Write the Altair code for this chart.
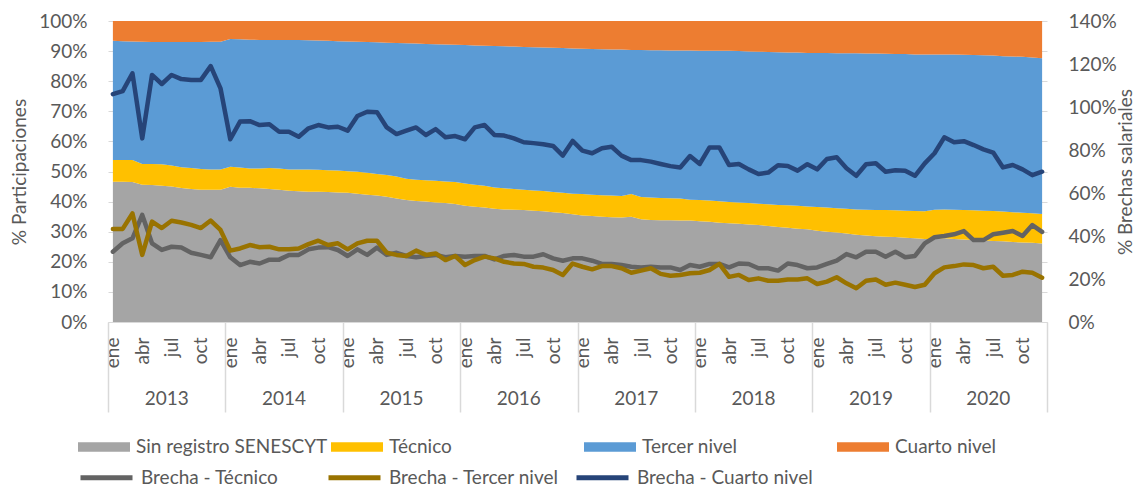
import altair as alt
import pandas as pd

# ---------------- data ----------------
years = [2013, 2014, 2015, 2016, 2017, 2018, 2019, 2020]
month_names = ["ene", "feb", "mar", "abr", "may", "jun", "jul", "ago", "sep", "oct", "nov", "dic"]

area_cats = ["Sin registro SENESCYT", "Técnico", "Tercer nivel", "Cuarto nivel"]
area_colors = ["#a5a5a5", "#ffc000", "#5b9bd5", "#ed7d31"]

line_cats = ["Brecha - Técnico", "Brecha - Tercer nivel", "Brecha - Cuarto nivel"]
line_colors = ["#636363", "#997300", "#264478"]

# % Participaciones (monthly, ene-2013 .. dic-2020)
sin_registro = [
    46.6, 46.6, 46.5, 45.6, 45.5, 45.3, 45.0, 44.5, 44.2, 43.9, 43.9, 43.9,
    44.9, 44.6, 44.6, 44.4, 44.2, 43.9, 43.6, 43.4, 43.3, 43.3, 43.2, 43.0,
    42.9, 42.6, 42.3, 42.0, 41.6, 41.0, 40.5, 40.2, 40.0, 39.7, 39.5, 39.2,
    38.6, 38.3, 38.0, 37.6, 37.4, 37.3, 37.2, 37.0, 36.8, 36.5, 36.2, 35.8,
    35.4, 35.2, 35.0, 34.8, 34.7, 35.0, 34.1, 33.9, 33.8, 33.8, 33.7, 33.7,
    33.5, 33.3, 33.0, 32.8, 32.6, 32.4, 32.2, 31.9, 31.6, 31.3, 31.0, 30.8,
    30.3, 30.0, 29.7, 29.4, 29.0, 28.7, 28.5, 28.3, 28.2, 28.0, 27.8, 27.6,
    27.6, 27.8, 27.6, 27.4, 27.2, 27.1, 26.9, 26.8, 26.6, 26.4, 26.3, 26.1,
]
tecnico = [
    7.2, 7.2, 7.3, 6.9, 7.0, 7.1, 7.0, 6.9, 7.0, 6.9, 6.8, 6.8,
    6.7, 6.7, 6.4, 6.6, 7.0, 7.1, 7.1, 7.3, 7.4, 7.3, 7.2, 7.3,
    7.2, 7.3, 7.3, 7.2, 7.2, 7.3, 7.1, 7.1, 7.1, 7.2, 7.2, 7.3,
    7.4, 7.3, 7.3, 7.1, 7.0, 6.9, 6.7, 6.7, 6.7, 6.7, 6.7, 6.8,
    7.1, 7.1, 7.1, 7.2, 7.2, 7.5, 7.4, 7.5, 7.4, 7.3, 7.3, 6.9,
    7.0, 7.1, 7.1, 7.1, 7.1, 7.1, 7.1, 7.2, 7.3, 7.5, 7.6, 7.6,
    7.9, 8.0, 8.1, 8.2, 8.4, 8.6, 8.7, 8.9, 8.9, 9.0, 9.1, 9.2,
    9.7, 9.6, 9.7, 9.8, 9.9, 9.9, 10.0, 9.9, 9.9, 9.9, 9.8, 9.8,
]
tercer = [
    39.6, 39.5, 39.4, 40.6, 40.5, 40.6, 41.0, 41.6, 41.8, 42.2, 42.4, 42.4,
    42.4, 42.6, 42.8, 42.7, 42.5, 42.7, 43.0, 43.0, 42.9, 42.9, 43.0, 43.0,
    43.1, 43.2, 43.4, 43.7, 44.0, 44.4, 45.0, 45.2, 45.3, 45.4, 45.5, 45.6,
    46.0, 46.3, 46.5, 47.0, 47.2, 47.3, 47.5, 47.6, 47.7, 47.9, 48.1, 48.3,
    48.3, 48.4, 48.5, 48.5, 48.6, 47.9, 48.9, 48.9, 49.1, 49.1, 49.2, 49.6,
    49.6, 49.7, 50.0, 50.2, 50.3, 50.4, 50.5, 50.6, 50.7, 50.7, 50.9, 51.0,
    51.2, 51.4, 51.5, 51.7, 51.9, 51.9, 52.0, 51.9, 51.9, 52.0, 52.0, 52.1,
    51.6, 51.5, 51.6, 51.6, 51.6, 51.6, 51.6, 51.6, 51.7, 51.8, 51.8, 51.7,
]
cuarto = [
    6.6, 6.7, 6.8, 6.9, 7.0, 7.0, 7.0, 7.0, 7.0, 7.0, 6.9, 6.9,
    6.0, 6.1, 6.2, 6.3, 6.3, 6.3, 6.3, 6.3, 6.4, 6.5, 6.6, 6.7,
    6.8, 6.9, 7.0, 7.1, 7.2, 7.3, 7.4, 7.5, 7.6, 7.7, 7.8, 7.9,
    8.0, 8.1, 8.2, 8.3, 8.4, 8.5, 8.6, 8.7, 8.8, 8.9, 9.0, 9.1,
    9.2, 9.3, 9.4, 9.5, 9.5, 9.6, 9.6, 9.7, 9.7, 9.8, 9.8, 9.8,
    9.9, 9.9, 9.9, 9.9, 10.0, 10.1, 10.2, 10.3, 10.4, 10.5, 10.5, 10.6,
    10.6, 10.6, 10.7, 10.7, 10.7, 10.8, 10.8, 10.9, 11.0, 11.0, 11.1, 11.1,
    11.1, 11.1, 11.1, 11.2, 11.3, 11.4, 11.5, 11.7, 11.8, 11.9, 12.1, 12.4,
]

# % Brechas salariales
brecha_tecnico = [
    32.7, 36.6, 38.9, 49.8, 36.6, 33.5, 35.0, 34.6, 32.2, 31.2, 30.1, 38.1,
    30.1, 26.5, 28.0, 27.2, 29.0, 29.0, 31.2, 31.2, 33.8, 34.6, 34.8, 33.5,
    30.7, 33.8, 31.2, 34.6, 31.2, 32.2, 30.7, 30.1, 30.7, 31.2, 30.1, 30.7,
    30.4, 30.7, 30.7, 29.1, 30.7, 31.2, 30.4, 30.4, 31.5, 29.6, 28.5, 29.6,
    29.6, 28.5, 27.0, 27.0, 26.5, 25.7, 25.4, 25.7, 25.4, 25.4, 24.2, 26.5,
    25.7, 27.0, 27.0, 25.4, 27.2, 27.0, 25.0, 25.0, 23.9, 27.2, 26.5, 25.0,
    25.4, 27.0, 28.5, 31.6, 30.1, 32.7, 32.7, 30.4, 32.7, 30.1, 30.7, 36.6,
    39.4, 40.0, 40.8, 42.3, 38.1, 38.1, 40.8, 41.5, 42.3, 40.0, 45.1, 41.9,
]
brecha_tercer = [
    43.3, 43.3, 50.5, 31.2, 46.7, 43.7, 47.1, 46.3, 45.2, 43.7, 47.2, 42.8,
    33.2, 34.2, 35.8, 34.8, 35.0, 33.8, 33.8, 34.2, 36.2, 37.8, 35.8, 36.6,
    33.8, 36.6, 37.8, 37.8, 32.2, 31.2, 30.7, 33.2, 31.2, 31.9, 28.8, 30.7,
    26.5, 28.8, 30.4, 29.6, 28.0, 27.2, 27.0, 25.7, 25.3, 24.2, 21.9, 27.2,
    25.7, 24.5, 26.0, 26.0, 25.0, 22.9, 23.9, 25.0, 22.4, 21.5, 21.9, 22.7,
    22.9, 24.2, 27.0, 21.0, 21.9, 19.5, 20.3, 19.2, 19.2, 19.8, 19.8, 20.3,
    17.7, 18.8, 20.8, 18.0, 15.7, 19.2, 19.8, 17.3, 18.3, 17.3, 16.3, 17.3,
    22.7, 25.4, 26.0, 26.8, 26.5, 25.0, 25.7, 21.5, 21.9, 23.4, 22.9, 20.6,
]
brecha_cuarto = [
    106.0, 107.4, 115.7, 85.4, 114.9, 110.7, 114.9, 113.0, 112.6, 112.6, 119.0, 108.7,
    85.0, 93.2, 93.4, 91.6, 92.0, 88.5, 88.5, 86.2, 90.1, 91.6, 90.5, 90.8,
    89.0, 95.8, 97.8, 97.6, 90.5, 87.4, 89.0, 90.5, 87.0, 89.7, 85.9, 86.5,
    85.0, 90.5, 91.6, 87.0, 86.7, 85.4, 83.6, 83.2, 82.7, 81.9, 77.4, 84.2,
    79.7, 78.5, 80.8, 81.5, 77.4, 75.3, 75.3, 74.6, 73.5, 72.5, 71.9, 77.2,
    73.5, 81.2, 81.2, 73.0, 73.5, 71.0, 68.8, 69.5, 72.9, 72.6, 70.4, 73.4,
    71.0, 75.8, 76.6, 71.5, 68.0, 73.4, 73.8, 69.9, 70.6, 70.4, 68.0, 73.8,
    78.5, 85.9, 83.6, 84.1, 82.3, 80.3, 78.8, 71.9, 73.0, 71.0, 68.3, 69.9,
]

# ---------------- tables ----------------
area_rows = []
for k, (cat, vals) in enumerate(zip(area_cats, [sin_registro, tecnico, tercer, cuarto])):
    for i, v in enumerate(vals):
        area_rows.append({"i": i, "cat": cat, "ord": k, "v": v})
area_df = pd.DataFrame(area_rows)

line_rows = []
for k, (ser, vals) in enumerate(zip(line_cats, [brecha_tecnico, brecha_tercer, brecha_cuarto])):
    for i, v in enumerate(vals):
        line_rows.append({"i": i, "ser": ser, "v": v})
line_df = pd.DataFrame(line_rows)

n_months = len(sin_registro)
year_df = pd.DataFrame({"c": [12 * k + 5.5 for k in range(len(years))],
                        "label": [str(y) for y in years]})

# ---------------- styling ----------------
FONT = "Lato"
TXT = "#595959"
FS = 19
W, H = 939, 301

xscale = alt.Scale(domain=[-0.5, n_months - 0.5], nice=False, zero=False)
month_expr = "[" + ",".join("'%s'" % m for m in month_names) + "][datum.value % 12]"

areas = alt.Chart(area_df).mark_area(clip=True, opacity=1).encode(
    x=alt.X("i:Q", scale=xscale,
            axis=alt.Axis(orient="bottom", values=list(range(0, n_months, 3)),
                          labelExpr=month_expr, labelAngle=-90, labelAlign="right",
                          labelBaseline="middle", labelPadding=15, ticks=False,
                          grid=False, domain=True, domainColor="#d9d9d9", domainWidth=1,
                          labelFont=FONT, labelFontSize=FS, labelColor=TXT, title=None)),
    y=alt.Y("v:Q", stack="zero", scale=alt.Scale(domain=[0, 100], nice=False),
            axis=alt.Axis(values=list(range(0, 101, 10)), labelExpr="datum.value + '%'",
                          grid=True, gridColor="#d9d9d9", domain=False, ticks=False,
                          labelPadding=21, labelFont=FONT, labelFontSize=FS, labelColor=TXT,
                          title="% Participaciones", titleFont=FONT, titleFontSize=FS,
                          titleFontWeight="normal", titleColor=TXT, titleAngle=270,
                          titleX=-89, titleY=H / 2, titleAlign="center", titleBaseline="middle")),
    color=alt.Color("cat:N", sort=area_cats,
                    scale=alt.Scale(domain=area_cats, range=area_colors),
                    legend=alt.Legend(orient="none", legendX=-30, legendY=400, direction="horizontal",
                                      columns=4, gridAlign="all", columnPadding=3,
                                      symbolType="M-1,-0.18H1V0.18H-1Z", symbolSize=2704,
                                      symbolStrokeWidth=0, symbolOpacity=1, labelOffset=6,
                                      labelFont=FONT, labelFontSize=FS, labelColor=TXT,
                                      labelLimit=400, title=None)),
    order=alt.Order("ord:Q"),
)

lines = alt.Chart(line_df).mark_line(strokeWidth=4.5, strokeJoin="round", strokeCap="round").encode(
    x=alt.X("i:Q", scale=xscale,
            axis=alt.Axis(orient="bottom", values=[12 * k - 0.5 for k in range(len(years) + 1)],
                          labels=False, ticks=True, tickSize=90, tickColor="#d9d9d9", tickWidth=1.5,
                          domain=False, grid=False, title=None)),
    y=alt.Y("v:Q", scale=alt.Scale(domain=[0, 140], nice=False),
            axis=alt.Axis(orient="right", values=list(range(0, 141, 20)),
                          labelExpr="datum.value + '%'", grid=False, domain=False, ticks=False,
                          labelPadding=21, labelFont=FONT, labelFontSize=FS, labelColor=TXT,
                          title="% Brechas salariales", titleFont=FONT, titleFontSize=FS,
                          titleFontWeight="normal", titleColor=TXT, titleAngle=270,
                          titleX=78, titleY=H / 2, titleAlign="center", titleBaseline="middle")),
    stroke=alt.Stroke("ser:N", sort=line_cats,
                      scale=alt.Scale(domain=line_cats, range=line_colors),
                      legend=alt.Legend(orient="none", legendX=-30, legendY=428, direction="horizontal",
                                        columns=3, gridAlign="all", columnPadding=1,
                                        symbolType="M-1,0H1", symbolSize=2704,
                                        symbolStrokeWidth=5, labelOffset=6,
                                        labelFont=FONT, labelFontSize=FS, labelColor=TXT,
                                        labelLimit=400, title=None)),
)

year_text = alt.Chart(year_df).mark_text(font=FONT, fontSize=FS, color=TXT, baseline="middle").encode(
    x=alt.X("c:Q", scale=xscale, axis=None),
    y=alt.value(378),
    text="label:N",
)

chart = alt.layer(areas, lines, year_text).resolve_scale(
    y="independent"
).resolve_axis(
    x="independent", y="independent"
).properties(
    width=W, height=H,
    autosize=alt.AutoSizeParams(type="none"),
    padding={"left": 100, "top": 13, "right": 91, "bottom": 165},
    background="white",
).configure_view(stroke=None)

chart.save("out.html", embed_options={"renderer": "svg", "actions": False})
